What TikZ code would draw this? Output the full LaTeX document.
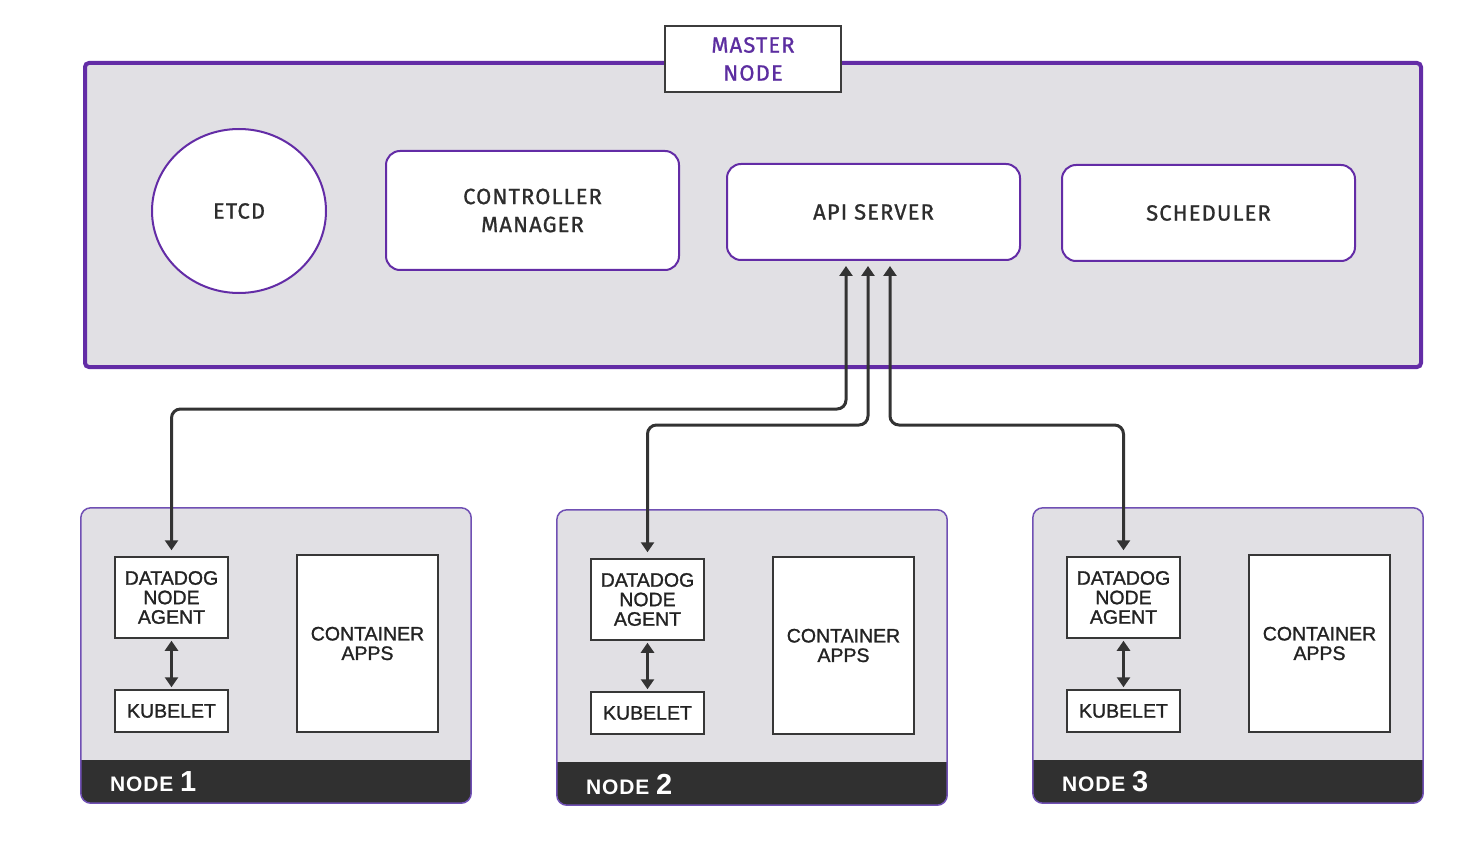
\documentclass[tikz,border=0pt]{standalone}
\usepackage{fontspec}
\setmainfont{Liberation Sans}
\newfontfamily\platefont{Fira Sans}[FakeBold=1,LetterSpace=5]
\newfontfamily\podfont{Liberation Sans}[FakeBold=1.2]
\newfontfamily\bandfont{Liberation Sans}[LetterSpace=4]
\usetikzlibrary{shapes.geometric, arrows.meta}

\begin{document}
\begin{tikzpicture}[x=1pt,y=1pt,yscale=-1,xscale=1,
  masterframe/.style={draw={rgb, 255:red, 99; green, 44; blue, 166}, line width=4pt, fill={rgb, 255:red, 225; green, 224; blue, 228}, rounded corners=4pt, inner sep=0pt},
  platelabel/.style={draw={rgb, 255:red, 60; green, 60; blue, 60}, line width=1.5pt, fill=white, align=center, text={rgb, 255:red, 92; green, 45; blue, 160}, font=\platefont\fontsize{22}{28}\selectfont},
  masterbox/.style={draw={rgb, 255:red, 99; green, 44; blue, 166}, line width=2pt, fill=white, rounded corners=14pt, align=center, text={rgb, 255:red, 45; green, 45; blue, 45}, font=\platefont\fontsize{22}{28}\selectfont},
  etcdshape/.style={ellipse, draw={rgb, 255:red, 99; green, 44; blue, 166}, line width=2pt, fill=white, text={rgb, 255:red, 45; green, 45; blue, 45}, font=\platefont\fontsize{22}{28}\selectfont, inner sep=0pt},
  workerframe/.style={fill={rgb, 255:red, 225; green, 224; blue, 228}, rounded corners=10pt, inner sep=0pt},
  workerborder/.style={draw={rgb, 255:red, 112; green, 80; blue, 180}, line width=1.5pt, rounded corners=10pt},
  band/.style={fill={rgb, 255:red, 48; green, 48; blue, 48}},
  bandlabel/.style={anchor=west, text=white, inner sep=0pt, font=\bandfont\bfseries\fontsize{21}{24}\selectfont},
  podbox/.style={draw={rgb, 255:red, 55; green, 55; blue, 55}, line width=1.5pt, fill=white, align=center, inner sep=0pt, text={rgb, 255:red, 35; green, 35; blue, 35}, font=\podfont\fontsize{19.5}{19.5}\selectfont},
  link/.style={draw={rgb, 255:red, 51; green, 51; blue, 51}, line width=3pt, rounded corners=9pt, {Triangle[length=10pt,width=13pt]}-{Triangle[length=10pt,width=13pt]}}
]
\useasboundingbox (0,0) rectangle (1484,845);

%Shape: Master frame
\node[masterframe, minimum width=1336pt, minimum height=304pt] (master) at (753,215) {};
% Text Node
\node[platelabel, minimum width=176pt, minimum height=66pt] (masterlabel) at (753,59) {MASTER\\NODE};

%Shape: Ellipse
\node[etcdshape, minimum width=174pt, minimum height=164pt] (etcd) at (239,211) {ETCD};
%Shape: Rounded rects
\node[masterbox, minimum width=293pt, minimum height=119pt] (ctrl) at (532.5,210.5) {CONTROLLER\\MANAGER};
\node[masterbox, minimum width=293pt, minimum height=96pt] (api) at (873.5,212) {API SERVER};
\node[masterbox, minimum width=293pt, minimum height=96pt] (sched) at (1208.5,213) {SCHEDULER};

%Shape: Worker node 1
\node[workerframe, minimum width=390pt, minimum height=295pt] (node1) at (276,655.5) {};
\begin{scope}
\clip[rounded corners=10pt] (node1.north west) rectangle (node1.south east);
\fill[band] ([yshift=-43pt]node1.south west) rectangle (node1.south east);
\end{scope}
\draw[workerborder] (node1.north west) rectangle (node1.south east);
\node[bandlabel] (label1) at (110,782) {NODE \fontsize{29}{29}\selectfont 1};
\node[podbox, minimum width=113pt, minimum height=81pt] (agent1) at (171.5,597.5) {DATADOG\\NODE\\AGENT};
\node[podbox, minimum width=113pt, minimum height=42pt] (kubelet1) at (171.5,711) {KUBELET};
\node[podbox, minimum width=141pt, minimum height=177pt] (apps1) at (367.5,643.5) {CONTAINER\\APPS};

%Shape: Worker node 2
\node[workerframe, minimum width=390pt, minimum height=295pt] (node2) at (752,657.5) {};
\begin{scope}
\clip[rounded corners=10pt] (node2.north west) rectangle (node2.south east);
\fill[band] ([yshift=-43pt]node2.south west) rectangle (node2.south east);
\end{scope}
\draw[workerborder] (node2.north west) rectangle (node2.south east);
\node[bandlabel] (label2) at (586,784) {NODE \fontsize{29}{29}\selectfont 2};
\node[podbox, minimum width=113pt, minimum height=81pt] (agent2) at (647.5,599.5) {DATADOG\\NODE\\AGENT};
\node[podbox, minimum width=113pt, minimum height=42pt] (kubelet2) at (647.5,713) {KUBELET};
\node[podbox, minimum width=141pt, minimum height=177pt] (apps2) at (843.5,645.5) {CONTAINER\\APPS};

%Shape: Worker node 3
\node[workerframe, minimum width=390pt, minimum height=295pt] (node3) at (1228,655.5) {};
\begin{scope}
\clip[rounded corners=10pt] (node3.north west) rectangle (node3.south east);
\fill[band] ([yshift=-43pt]node3.south west) rectangle (node3.south east);
\end{scope}
\draw[workerborder] (node3.north west) rectangle (node3.south east);
\node[bandlabel] (label3) at (1062,782) {NODE \fontsize{29}{29}\selectfont 3};
\node[podbox, minimum width=113pt, minimum height=81pt] (agent3) at (1123.5,597.5) {DATADOG\\NODE\\AGENT};
\node[podbox, minimum width=113pt, minimum height=42pt] (kubelet3) at (1123.5,711) {KUBELET};
\node[podbox, minimum width=141pt, minimum height=177pt] (apps3) at (1319.5,643.5) {CONTAINER\\APPS};

%Lines: agents to api server
\draw[link] ([xshift=-27.5pt,yshift=5pt]api.south) -- ++(0,143) -| ([yshift=-6pt]agent1.north);
\draw[link] ([xshift=-5.5pt,yshift=5pt]api.south) -- ++(0,159) -| ([yshift=-6pt]agent2.north);
\draw[link] ([xshift=16.5pt,yshift=5pt]api.south) -- ++(0,159) -| ([yshift=-6pt]agent3.north);

%Lines: agent to kubelet
\draw[link] ([yshift=2pt]agent1.south) -- ([yshift=-2pt]kubelet1.north);
\draw[link] ([yshift=2pt]agent2.south) -- ([yshift=-2pt]kubelet2.north);
\draw[link] ([yshift=2pt]agent3.south) -- ([yshift=-2pt]kubelet3.north);

\end{tikzpicture}
\end{document}
